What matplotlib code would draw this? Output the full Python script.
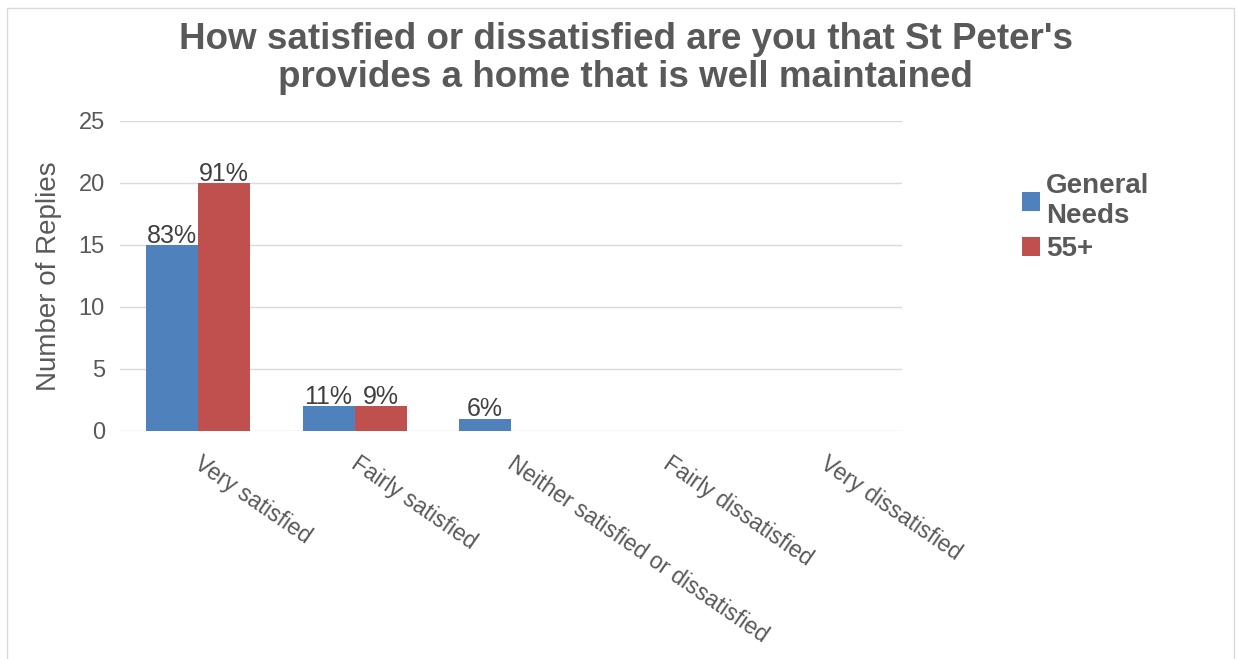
import matplotlib.pyplot as plt
import numpy as np
from matplotlib.patches import Rectangle
from matplotlib.transforms import ScaledTranslation

categories = ["Very satisfied", "Fairly satisfied", "Neither satisfied or dissatisfied",
              "Fairly dissatisfied", "Very dissatisfied"]
general_needs = [15, 2, 1, 0, 0]
over_55 = [20, 2, 0, 0, 0]
general_labels = ["83%", "11%", "6%", "", ""]
over_55_labels = ["91%", "9%", "", "", ""]

plt.rcParams["font.family"] = ["Liberation Sans", "DejaVu Sans"]
text_col = "#595959"

fig = plt.figure(figsize=(12.39, 6.59), dpi=100)
ax = fig.add_axes([0.0969, 0.346, 0.631, 0.4704])

x = np.arange(len(categories))
w = 0.333
b1 = ax.bar(x - w / 2, general_needs, w, color="#4F81BD", label="General\nNeeds", zorder=2)
b2 = ax.bar(x + w / 2, over_55, w, color="#C0504D", label="55+", zorder=2)

for bars, labels in ((b1, general_labels), (b2, over_55_labels)):
    for bar, lab in zip(bars, labels):
        if lab:
            ax.annotate(lab, (bar.get_x() + bar.get_width() / 2, bar.get_height()),
                        xytext=(0, -2), textcoords="offset points",
                        ha="center", va="bottom", fontsize=18, color="#404040", zorder=3)

ax.set_xlim(-0.5, len(categories) - 0.5)
ax.set_ylim(0, 25)
ax.set_yticks(range(0, 26, 5))
ax.grid(axis="y", color="#D9D9D9", linewidth=1, zorder=0)
for s in ax.spines.values():
    s.set_visible(False)
ax.tick_params(axis="both", length=0, colors=text_col, labelsize=17)
ax.tick_params(axis="y", pad=11)
ax.set_xticks(x)
ax.set_xticklabels(categories, rotation=-34.5, ha="left", va="top",
                   rotation_mode="anchor", fontsize=16.5, color=text_col)
ax.tick_params(axis="x", pad=15)
shift = ScaledTranslation(5 / 100, 0, fig.dpi_scale_trans)
for lbl in ax.get_xticklabels():
    lbl.set_transform(lbl.get_transform() + shift)
ax.set_ylabel("Number of Replies", fontsize=20, color=text_col, labelpad=12)

fig.suptitle("How satisfied or dissatisfied are you that St Peter's\nprovides a home that is well maintained",
             x=0.505, y=0.967, va="top", fontsize=26.5, fontweight="bold", color=text_col,
             linespacing=1.12)

leg = ax.legend(loc="upper left", bbox_to_anchor=(1011 / 1239, 1 - 162 / 659),
                bbox_transform=fig.transFigure, frameon=False, borderaxespad=0,
                handlelength=0.65, handleheight=0.65, handletextpad=0.2,
                labelspacing=0.25, prop={"size": 20, "weight": "bold"})
for t in leg.get_texts():
    t.set_color(text_col)

fig.patches.append(Rectangle((0.006, -0.01), 0.99, 0.998, transform=fig.transFigure,
                             fill=False, edgecolor="#D9D9D9", linewidth=1))

fig.savefig("out.png", dpi=100)
